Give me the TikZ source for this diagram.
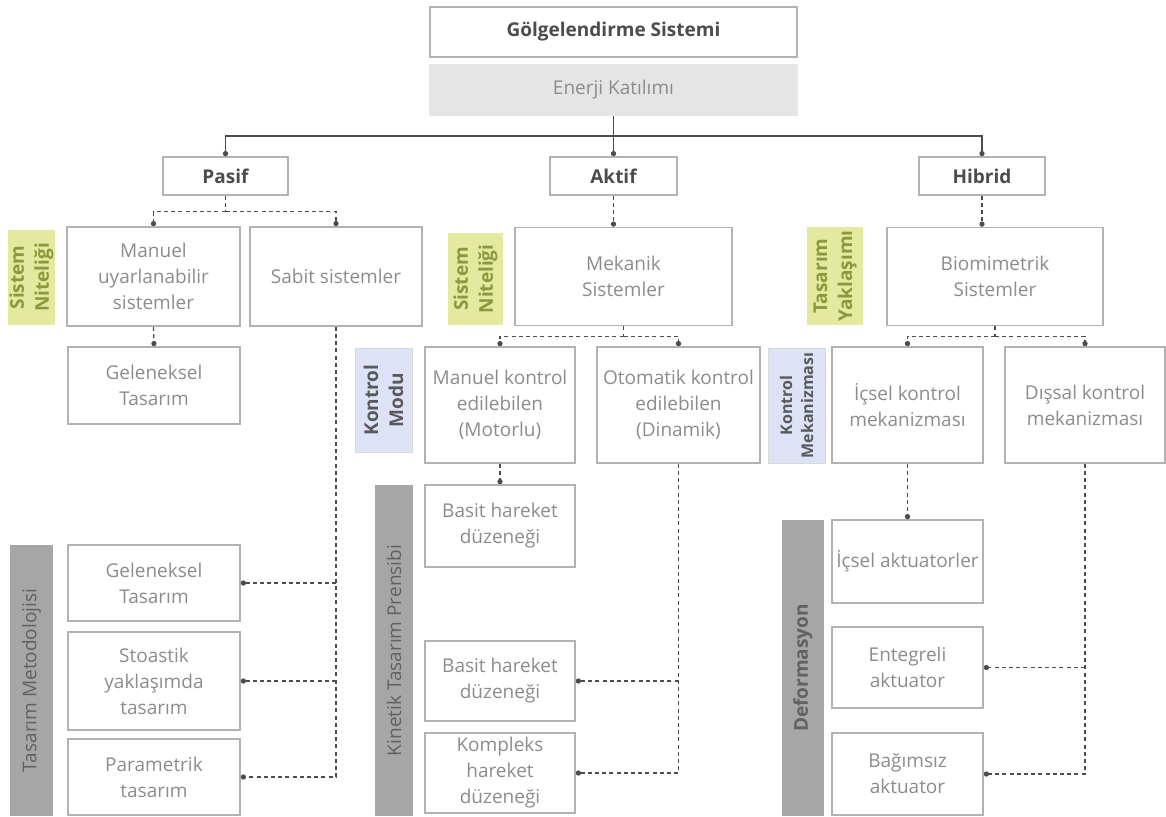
\documentclass[tikz,border=0pt]{standalone}
\usepackage{fontspec}
\setmainfont{Open Sans}
\usepackage{xcolor}
\usepackage{tikz}
\usetikzlibrary{arrows.meta, positioning, calc}

\definecolor{lblgreen}{HTML}{E4E9A0}
\definecolor{lblgreentxt}{HTML}{8A993C}
\definecolor{lblblue}{HTML}{DDE2F6}

\begin{document}
\begin{tikzpicture}[x=0.5pt, y=-0.5pt,
  box/.style={draw=black!30, line width=0.8pt, fill=white, text=black!45, align=center,
    inner sep=1pt, font=\fontsize{9.5}{13}\selectfont},
  headbox/.style={box, text=black!70, font=\fontsize{9.5}{13}\selectfont\bfseries},
  sidelbl/.style={rotate=90, align=center, inner sep=0pt, font=\fontsize{9.5}{12.5}\selectfont\bfseries},
  greenlbl/.style={sidelbl, fill=lblgreen, text=lblgreentxt},
  bluelbl/.style={sidelbl, fill=lblblue, draw=black!15, text=black!65},
  graylbl/.style={sidelbl, fill=black!35, text=black!62},
  conn/.style={draw=black!70, line width=0.6pt},
  dconn/.style={conn, dash pattern=on 2pt off 1.6pt},
  dotend/.style={-{Circle[length=2.6pt]}}]
  \useasboundingbox (0,0) rectangle (1166,816);
  % Top of the tree
  \node[headbox, minimum width=183.5pt, minimum height=25pt] (gsys) at (613.5,32) {Gölgelendirme Sistemi};
  \node[box, fill=black!10, draw=black!10, minimum width=183.5pt, minimum height=25pt] (enerji) at (613.5,90) {Enerji Katılımı};
  \node[headbox, minimum width=62.5pt, minimum height=19pt] (pasif) at (225.5,176) {Pasif};
  \node[headbox, minimum width=63.5pt, minimum height=19pt] (aktif) at (613.5,176) {Aktif};
  \node[headbox, minimum width=63pt, minimum height=19pt] (hibrid) at (982,176) {Hibrid};
  % System nature row
  \node[box, minimum width=86.5pt, minimum height=49.5pt] (manuel) at (153.5,276.5) {Manuel\\uyarlanabilir\\sistemler};
  \node[box, minimum width=86pt, minimum height=49.5pt] (sabit) at (336,276.5) {Sabit sistemler};
  \node[box, minimum width=108.5pt, minimum height=49pt] (mekanik) at (623.5,276.5) {Mekanik\\Sistemler};
  \node[box, minimum width=108pt, minimum height=49pt] (biomim) at (995,276.5) {Biomimetrik\\Sistemler};
  % Control row
  \node[box, minimum width=86pt, minimum height=38.5pt] (gelen1) at (154,385.5) {Geleneksel\\Tasarım};
  \node[box, minimum width=75pt, minimum height=58pt] (manuelk) at (500,405) {Manuel kontrol\\edilebilen\\(Motorlu)};
  \node[box, minimum width=81.5pt, minimum height=58pt] (otomatik) at (678.5,405) {Otomatik kontrol\\edilebilen\\(Dinamik)};
  \node[box, minimum width=75.5pt, minimum height=58pt] (icselk) at (907.5,405) {İçsel kontrol\\mekanizması};
  \node[box, minimum width=80pt, minimum height=58pt] (dissal) at (1085,405) {Dışsal kontrol\\mekanizması};
  % Lower boxes
  \node[box, minimum width=86pt, minimum height=38pt] (gelen2) at (154,583) {Geleneksel\\Tasarım};
  \node[box, minimum width=86pt, minimum height=49pt] (stoastik) at (154,681) {Stoastik\\yaklaşımda\\tasarım};
  \node[box, minimum width=86pt, minimum height=38pt] (param) at (154,777) {Parametrik\\tasarım};
  \node[box, minimum width=75pt, minimum height=41pt] (basit1) at (500,526) {Basit hareket\\düzeneği};
  \node[box, minimum width=75pt, minimum height=40pt] (basit2) at (500,681) {Basit hareket\\düzeneği};
  \node[box, minimum width=75pt, minimum height=40pt] (kompleks) at (500,773) {Kompleks\\hareket\\düzeneği};
  \node[box, minimum width=75.5pt, minimum height=41.5pt] (icakt) at (907.5,561.5) {İçsel aktuatorler};
  \node[box, minimum width=75.5pt, minimum height=40.5pt] (enteg) at (907.5,667.5) {Entegreli\\aktuator};
  \node[box, minimum width=75.5pt, minimum height=41pt] (bagim) at (907.5,774) {Bağımsız\\aktuator};
  % Side labels
  \node[greenlbl, minimum width=47.5pt, minimum height=23.5pt] (snit1) at (31.5,277.5) {Sistem\\Niteliği};
  \node[greenlbl, minimum width=46pt, minimum height=27.5pt] (snit2) at (475.5,279) {Sistem\\Niteliği};
  \node[greenlbl, minimum width=49pt, minimum height=28pt] (tyak) at (835,276) {Tasarım\\Yaklaşımı};
  \node[bluelbl, minimum width=52pt, minimum height=28.5pt] (kmod) at (383.5,400) {Kontrol\\Modu};
  \node[bluelbl, minimum width=57.5pt, minimum height=28.5pt, font=\fontsize{8}{10.5}\selectfont\bfseries] (kmek) at (796.5,405.5) {Kontrol\\Mekanizması};
  \node[graylbl, minimum width=135.5pt, minimum height=21.5pt, font=\fontsize{9.5}{12}\selectfont] (tmet) at (31.5,680.5) {Tasarım Metodolojisi};
  \node[graylbl, minimum width=165.5pt, minimum height=19pt, font=\fontsize{9.5}{12}\selectfont] (ktp) at (394,650.5) {Kinetik Tasarım Prensibi};
  \node[graylbl, minimum width=148pt, minimum height=21pt] (deform) at (803,668) {Deformasyon};
  % Solid split below the energy box
  \coordinate (split) at (613.5,136);
  \draw[conn] (enerji.south) -- (split);
  \draw[conn, dotend] (split) -| (pasif.north);
  \draw[conn, dotend] (split) -- (aktif.north);
  \draw[conn, dotend] (split) -| (hibrid.north);
  % Dashed links
  \draw[dconn] (pasif.south) -- ++(0,16) coordinate (pfork);
  \draw[dconn, dotend] (pfork) -| (manuel.north);
  \draw[dconn, dotend] (pfork) -| (sabit.north);
  \draw[dconn, dotend] (aktif.south) -- (aktif.south |- mekanik.north);
  \draw[dconn, dotend] (hibrid.south) -- (hibrid.south |- biomim.north);
  \draw[dconn] (mekanik.south) -- ++(0,10) coordinate (mfork);
  \draw[dconn, dotend] (mfork) -| (manuelk.north);
  \draw[dconn, dotend] (mfork) -| (otomatik.north);
  \draw[dconn] (biomim.south) -- ++(0,10) coordinate (bfork);
  \draw[dconn, dotend] (bfork) -| (icselk.north);
  \draw[dconn, dotend] (bfork) -| (dissal.north);
  \draw[dconn, dotend] (manuel.south) -- (gelen1.north);
  \draw[dconn, dotend] (sabit.south) |- (param.east);
  \draw[dconn, dotend] (sabit.south |- gelen2.east) -- (gelen2.east);
  \draw[dconn, dotend] (sabit.south |- stoastik.east) -- (stoastik.east);
  \draw[dconn, dotend] (manuelk.south) -- (basit1.north);
  \draw[dconn, dotend] (otomatik.south) |- (kompleks.east);
  \draw[dconn, dotend] (otomatik.south |- basit2.east) -- (basit2.east);
  \draw[dconn, dotend] (icselk.south) -- (icakt.north);
  \draw[dconn, dotend] (dissal.south) |- (bagim.east);
  \draw[dconn, dotend] (dissal.south |- enteg.east) -- (enteg.east);
\end{tikzpicture}
\end{document}
